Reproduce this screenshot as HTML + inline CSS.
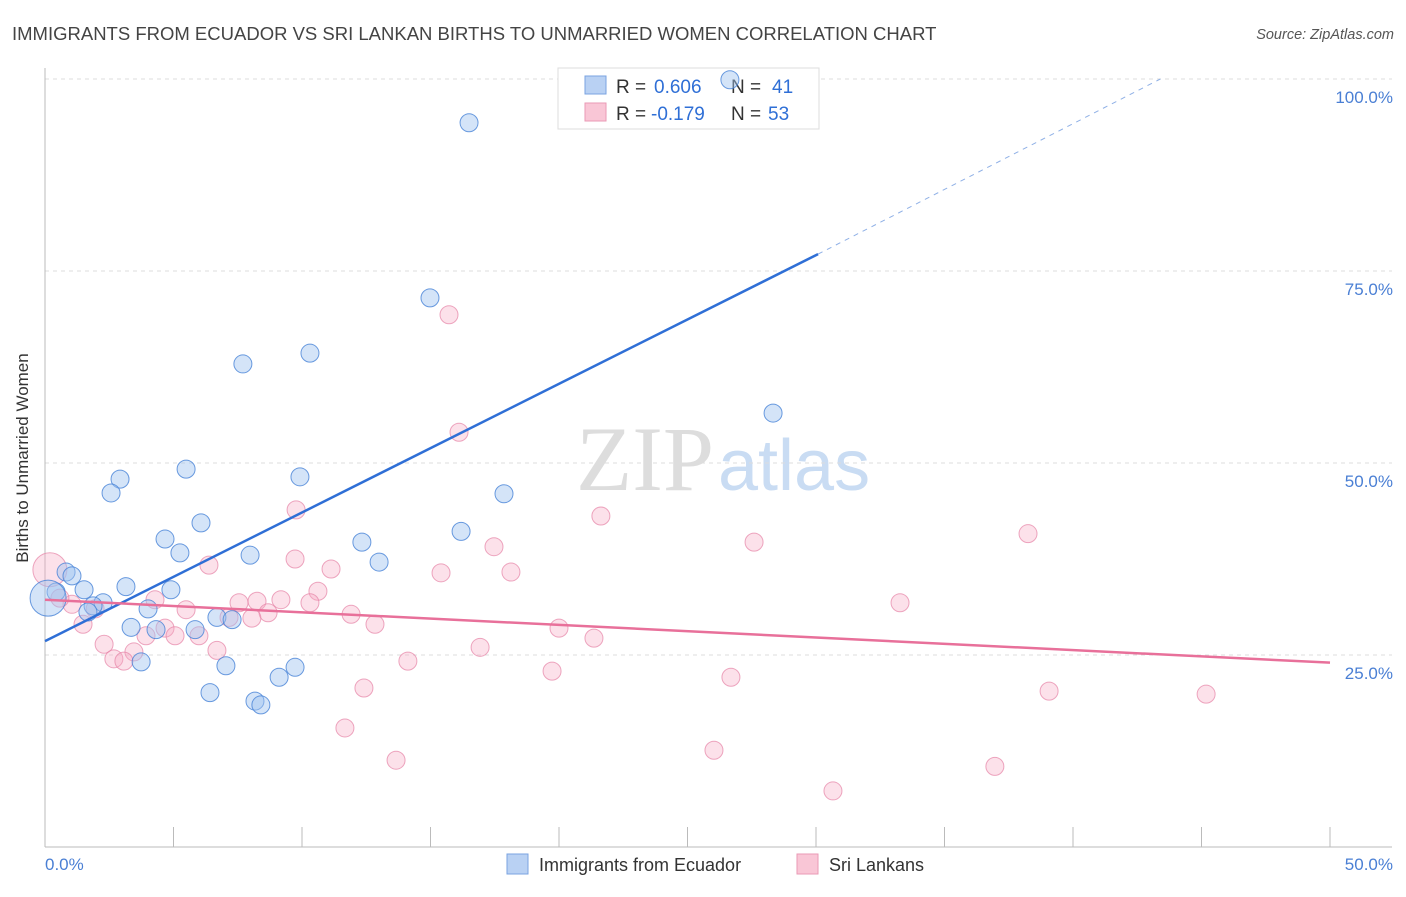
<!DOCTYPE html>
<html><head><meta charset="utf-8"><style>
body{margin:0;background:#fff;font-family:"Liberation Sans",sans-serif;}
</style></head><body>
<svg width="1406" height="892" xmlns="http://www.w3.org/2000/svg">
<text x="12" y="40" font-size="18.5" fill="#444">IMMIGRANTS FROM ECUADOR VS SRI LANKAN BIRTHS TO UNMARRIED WOMEN CORRELATION CHART</text>
<text x="1394" y="39" font-size="14.5" fill="#555" font-style="italic" text-anchor="end">Source: ZipAtlas.com</text>
<text x="714" y="490" font-size="92" fill="#ddd" text-anchor="end" font-family="Liberation Serif,serif">ZIP</text>
<text x="718" y="490" font-size="72" fill="#c9dcf3">atlas</text>
<g id="grid"></g>
<line x1="45" y1="68" x2="45" y2="847" stroke="#bbb"/>
<line x1="45" y1="847" x2="1392" y2="847" stroke="#bbb"/>
<text x="28" y="458" font-size="17" fill="#333" text-anchor="middle" transform="rotate(-90 28 458)">Births to Unmarried Women</text>
<text x="45" y="870" font-size="17" fill="#4a7fd4">0.0%</text>
<text x="1393" y="870" font-size="17" fill="#4a7fd4" text-anchor="end">50.0%</text>
<g>
<rect x="558" y="68" width="261" height="61" fill="#fff" stroke="#ddd"/>
<rect x="585" y="76" width="21" height="18" fill="#b9d1f3" stroke="#7aa3e0"/>
<rect x="585" y="103" width="21" height="18" fill="#f9c6d6" stroke="#ea9ab5"/>
<text x="616" y="93" font-size="19" fill="#333">R =</text>
<text x="654" y="93" font-size="19" fill="#2f6fd6">0.606</text>
<text x="731" y="93" font-size="19" fill="#333">N =</text>
<text x="772" y="93" font-size="19" fill="#2f6fd6">41</text>
<text x="616" y="120" font-size="19" fill="#333">R =</text>
<text x="651" y="120" font-size="19" fill="#2f6fd6">-0.179</text>
<text x="731" y="120" font-size="19" fill="#333">N =</text>
<text x="768" y="120" font-size="19" fill="#2f6fd6">53</text>
</g>
<g id="pts"></g>
<g id="lines"></g>
<g><rect x="507" y="854" width="21" height="20" fill="#b9d1f3" stroke="#7aa3e0"/><text x="539" y="871" font-size="18" fill="#333">Immigrants from Ecuador</text></g>
<g><rect x="797" y="854" width="21" height="20" fill="#f9c6d6" stroke="#ea9ab5"/><text x="829" y="871" font-size="18" fill="#333">Sri Lankans</text></g>
</svg>
<script>
const yTicks=[25,50,75,100];
const yTickLabels=["25.0%","50.0%","75.0%","100.0%"];
const xTicks=[0,5,10,15,20,25,30,35,40,45,50];
const blueX=[26.65,16.5,14.98,10.31,7.7,28.33,5.49,9.92,2.92,2.57,17.86,6.07,16.19,4.67,12.33,5.25,7.98,13.0,0.82,1.05,3.15,1.52,4.9,0.43,0.12,2.26,1.87,4.01,1.67,3.35,4.32,5.84,6.69,7.28,3.74,7.04,9.73,9.11,6.42,8.17,8.4];
const blueY=[99.9,94.3,71.5,64.3,62.9,56.5,49.2,48.2,47.9,46.1,46.0,42.2,41.1,40.1,39.7,38.3,38.0,37.1,35.8,35.3,33.9,33.5,33.5,33.2,32.4,31.8,31.4,31.0,30.6,28.6,28.3,28.3,29.9,29.6,24.1,23.6,23.4,22.1,20.1,19.0,18.5];
const blueBig=[24];
const pinkX=[15.72,16.11,9.77,21.63,38.25,27.59,17.47,6.38,9.73,11.13,15.41,18.13,10.62,4.28,33.27,5.49,7.55,8.25,9.18,10.31,11.91,8.68,8.05,12.84,20.0,4.67,7.16,21.36,3.93,5.06,5.99,16.93,2.3,6.69,3.46,2.68,3.07,14.12,19.73,26.69,12.41,39.07,45.18,26.03,11.67,13.66,36.96,30.66,0.19,1.05,1.48,0.58,1.95];
const pinkY=[69.3,54.0,43.9,43.1,40.8,39.7,39.1,36.7,37.5,36.2,35.7,35.8,33.3,32.2,31.8,30.9,31.8,32.0,32.2,31.8,30.3,30.5,29.8,29.0,28.5,28.5,29.9,27.2,27.5,27.5,27.5,26.0,26.4,25.6,25.4,24.5,24.2,24.2,22.9,22.1,20.7,20.3,19.9,12.6,15.5,11.3,10.5,7.3,36.1,31.6,29.0,32.4,31.0];
const pinkBig=[48];
const blueLine=[[0,26.8],[30.08,77.2]];
const blueDash=[[30.08,77.2],[43.4,100]];
const pinkLine=[[0,32.2],[50,24.0]];
const X=v=>45+v/50*1285, Y=v=>847-v/100*768;
const NS="http://www.w3.org/2000/svg";
const grid=document.getElementById('grid');
yTicks.forEach((t,i)=>{
 const l=document.createElementNS(NS,'line');
 l.setAttribute('x1',45);l.setAttribute('x2',1392);l.setAttribute('y1',Y(t));l.setAttribute('y2',Y(t));
 l.setAttribute('stroke','#ddd');l.setAttribute('stroke-dasharray','4 4');
 
 
 grid.appendChild(l);
 const tx=document.createElementNS(NS,'text');
 tx.setAttribute('x',1393);tx.setAttribute('y',Y(t)+24);tx.setAttribute('text-anchor','end');
 tx.setAttribute('font-size','17');tx.setAttribute('fill','#4a7fd4');tx.textContent=yTickLabels[i];
 
 
 grid.appendChild(tx);
});
xTicks.forEach(t=>{
 const l=document.createElementNS(NS,'line');
 l.setAttribute('x1',X(t));l.setAttribute('x2',X(t));l.setAttribute('y1',827);l.setAttribute('y2',847);
 l.setAttribute('stroke','#bbb');
 
 
 grid.appendChild(l);
});
const pts=document.getElementById('pts');
function dots(xs,ys,big,fill,stroke,name,bigR){
 xs.forEach((x,i)=>{
  const c=document.createElementNS(NS,'circle');
  c.setAttribute('cx',X(x));c.setAttribute('cy',Y(ys[i]));
  c.setAttribute('r',big.includes(i)?bigR:9);
  c.setAttribute('fill',fill);c.setAttribute('stroke',stroke);c.setAttribute('stroke-width','1');
  
  
  pts.appendChild(c);
 });
}
dots(pinkX,pinkY,pinkBig,'rgba(246,170,195,0.35)','rgba(230,130,165,0.7)','sri-lankan-point',17);
dots(blueX,blueY,blueBig,'rgba(160,195,240,0.45)','rgba(70,130,215,0.8)','ecuador-point',18);
const lines=document.getElementById('lines');
function seg(p,color,w,dash,name){
 const l=document.createElementNS(NS,'line');
 l.setAttribute('x1',X(p[0][0]));l.setAttribute('y1',Y(p[0][1]));
 l.setAttribute('x2',X(p[1][0]));l.setAttribute('y2',Y(p[1][1]));
 l.setAttribute('stroke',color);l.setAttribute('stroke-width',w);
 if(dash)l.setAttribute('stroke-dasharray',dash);
 
 
 lines.appendChild(l);
}
seg(blueLine,'#2f6fd6',2.5,null,'ecuador-trendline');
seg(blueDash,'#8fb0e6',1,'5 5','ecuador-trendline-extension');
seg(pinkLine,'#e8709a',2.5,null,'sri-lankan-trendline');
</script>
</body></html>
